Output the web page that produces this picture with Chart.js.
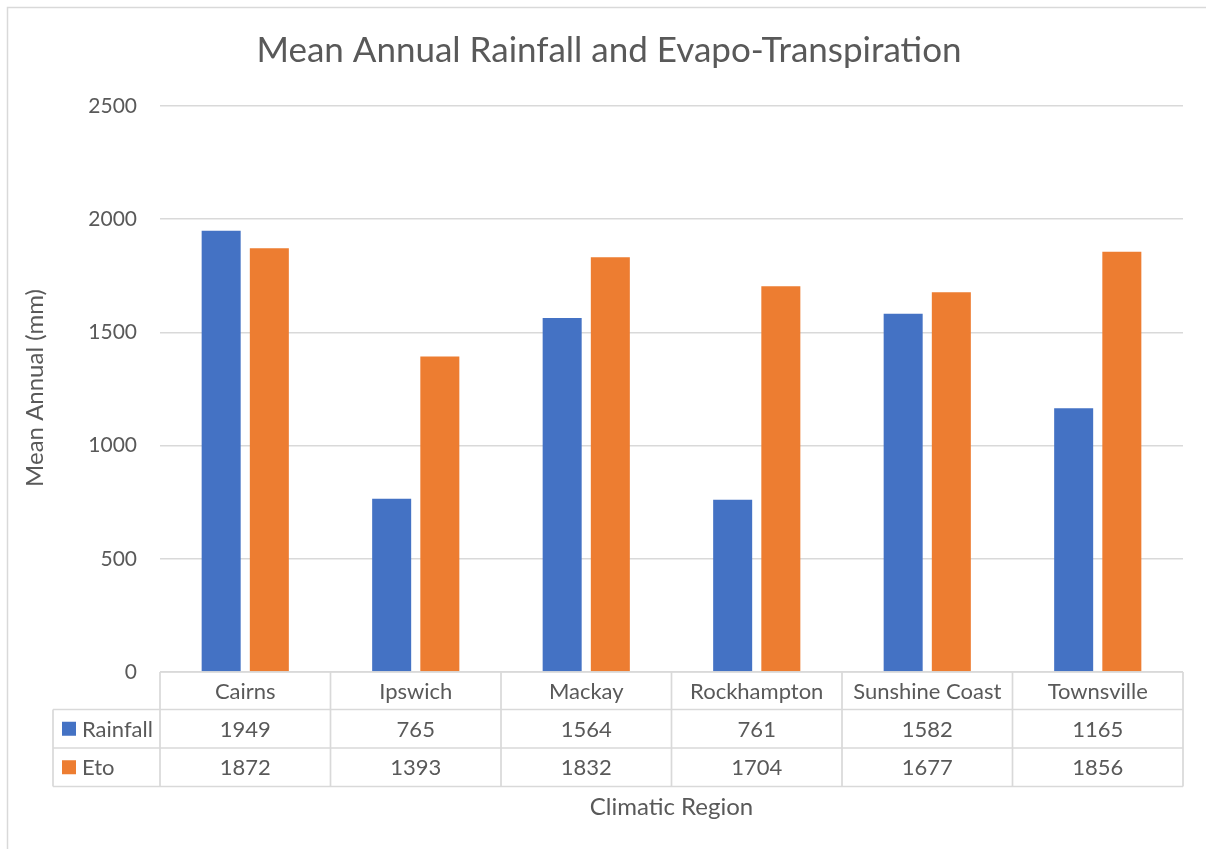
<!DOCTYPE html>
<html>
<head>
<meta charset="utf-8">
<script src="https://cdn.jsdelivr.net/npm/chart.js@4.4.1/dist/chart.umd.min.js"></script>
<style>
html,body{margin:0;padding:0;background:#fff;}
#wrap{position:absolute;left:0;top:0;width:1206px;height:849px;}
</style>
</head>
<body>
<div id="wrap"><canvas id="c" width="1206" height="849"></canvas></div>
<script>
const chartTitle = 'Mean Annual Rainfall and Evapo-Transpiration';
const xTitle = 'Climatic Region';
const yTitle = 'Mean Annual (mm)';
const categories = ['Cairns', 'Ipswich', 'Mackay', 'Rockhampton', 'Sunshine Coast', 'Townsville'];
const seriesNames = ['Rainfall', 'Eto'];
const rainfall = [1949, 765, 1564, 761, 1582, 1165];
const eto = [1872, 1393, 1832, 1704, 1677, 1856];
const yTicks = [0, 500, 1000, 1500, 2000, 2500];
const colors = ['#4472C4', '#ED7D31'];

const FONT = 'Lato, "Open Sans", sans-serif';
const TXT = '#595959';
const LINE = '#d9d9d9';

const tablePlugin = {
  id: 'tablePlugin',
  beforeDraw(chart) {
    const ctx = chart.ctx;
    ctx.save();
    ctx.fillStyle = '#fff';
    ctx.fillRect(0, 0, chart.width, chart.height);
    ctx.strokeStyle = LINE;
    ctx.lineWidth = 1.5;
    ctx.beginPath();
    ctx.moveTo(7.5, chart.height + 5);
    ctx.lineTo(7.5, 7.5);
    ctx.lineTo(chart.width + 5, 7.5);
    ctx.stroke();
    ctx.restore();
  },
  afterDraw(chart) {
    const ctx = chart.ctx;
    const ca = chart.chartArea;
    const xs = chart.scales.x;
    const n = categories.length;
    const colW = (ca.right - ca.left) / n;
    const top = ca.bottom;
    const r1 = 709.5, r2 = 748, r3 = 786.5;
    const leftX = 53;
    ctx.save();
    ctx.fillStyle = TXT;
    ctx.font = '35px ' + FONT;
    ctx.textAlign = 'center';
    ctx.textBaseline = 'middle';
    ctx.fillText(chartTitle, 609, 51);
    ctx.save();
    ctx.translate(35, 388);
    ctx.rotate(-Math.PI / 2);
    ctx.font = '24px ' + FONT;
    ctx.fillText(yTitle, 0, 0);
    ctx.restore();
    ctx.font = '24px ' + FONT;
    ctx.fillText(xTitle, (ca.left + ca.right) / 2, 807);

    ctx.strokeStyle = LINE;
    ctx.lineWidth = 1.7;
    ctx.beginPath();
    ctx.moveTo(ca.left, top); ctx.lineTo(ca.right, top);
    [r1, r2, r3].forEach(y => { ctx.moveTo(leftX, y); ctx.lineTo(ca.right, y); });
    ctx.moveTo(leftX, r1); ctx.lineTo(leftX, r3);
    for (let i = 0; i <= n; i++) {
      const x = ca.left + i * colW;
      ctx.moveTo(x, top); ctx.lineTo(x, r3);
    }
    ctx.stroke();

    ctx.fillStyle = TXT;
    ctx.font = '22px ' + FONT;
    ctx.textAlign = 'center';
    categories.forEach((c, i) => {
      ctx.fillText(c, xs.getPixelForValue(i), (top + r1) / 2 + 1);
    });
    const rows = [rainfall, eto];
    const rowY = [(r1 + r2) / 2 + 1, (r2 + r3) / 2 + 1];
    rows.forEach((vals, ri) => {
      ctx.textAlign = 'center';
      ctx.fillStyle = TXT;
      vals.forEach((v, i) => ctx.fillText(String(v), xs.getPixelForValue(i), rowY[ri]));
      ctx.fillStyle = colors[ri];
      ctx.fillRect(62, rowY[ri] - 8, 14, 14);
      ctx.fillStyle = TXT;
      ctx.textAlign = 'left';
      ctx.fillText(seriesNames[ri], 82, rowY[ri]);
    });
    ctx.restore();
  }
};

new Chart(document.getElementById('c'), {
  type: 'bar',
  data: {
    labels: categories,
    datasets: [
      { label: seriesNames[0], data: rainfall, backgroundColor: colors[0], categoryPercentage: 0.565, barPercentage: 0.81 },
      { label: seriesNames[1], data: eto, backgroundColor: colors[1], categoryPercentage: 0.565, barPercentage: 0.81 }
    ]
  },
  options: {
    responsive: false,
    animation: false,
    devicePixelRatio: 1,
    layout: { padding: { top: 106, right: 23, bottom: 177, left: 0 } },
    plugins: { legend: { display: false }, title: { display: false }, tooltip: { enabled: false } },
    scales: {
      x: { display: false },
      y: {
        min: 0, max: 2500,
        afterFit(s) { s.width = 160; },
        afterBuildTicks(s) { s.ticks = yTicks.map(v => ({ value: v })); },
        border: { display: false },
        grid: { color: LINE, lineWidth: 1.5, drawTicks: false },
        ticks: { color: TXT, font: { family: FONT, size: 21 }, padding: 23, callback: v => String(v) }
      }
    }
  },
  plugins: [tablePlugin]
});
</script>
</body>
</html>
